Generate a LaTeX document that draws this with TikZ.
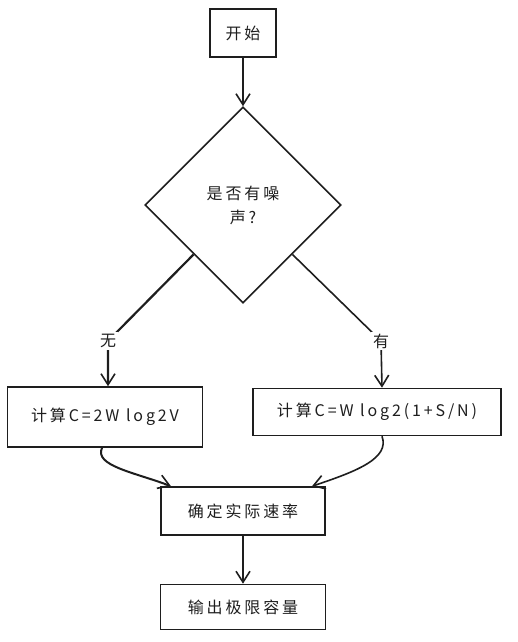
\documentclass[tikz,border=0pt]{standalone}
\usepackage{fontspec}
\setmainfont{Noto Sans CJK SC}[LetterSpace=18]
\usepackage{tikz}
\usetikzlibrary{calc}
\usetikzlibrary{shapes,arrows.meta}
\definecolor{lineColor}{HTML}{1E1E1E}
\tikzstyle{box}=[rectangle, draw=lineColor, line width=1.6pt, text=lineColor, text centered, font=\fontsize{16}{24}\selectfont]
\tikzset{
	desicion/.style={
		diamond,
		draw=lineColor,
		line width=1.6pt,
		aspect=1,
		minimum width=196pt,
		minimum height=196pt,
		inner sep=0pt,
		align=center,
		text=lineColor,
		font=\fontsize{16}{24}\selectfont
	},
	descr/.style={
		fill=white,
		inner sep=2pt,
		text=lineColor,
		font=\fontsize{16}{20}\selectfont
	},
	connector/.style={
		draw=lineColor,
		line width=1.6pt,
		-{Straight Barb[length=11pt,width=14pt,line width=1.6pt]}
	}
}

\begin{document}
\begin{tikzpicture}[x=1pt, y=-1pt, node distance=96pt]
	\useasboundingbox (0,0) rectangle (518,642);
	\node(Start)[box, minimum width=66pt, minimum height=48pt] at (243,33) {开始};
	
	\node(Noise)[desicion, below of=Start, yshift=-76pt]{是否有噪\\声?};
	
	\node(CalcNoNoise)[box, minimum width=195pt, minimum height=60pt, below of=Noise, xshift=-138pt, yshift=-116pt]{计算C=2W log2V};
	
	\node(CalcNoise)[box, minimum width=248pt, minimum height=47pt, below of=Noise, xshift=134pt, yshift=-111pt]{计算C=W log2(1+S/N)};
	
	\node(Rate)[box, minimum width=164pt, minimum height=48pt, below of=Noise, yshift=-210pt]{确定实际速率};
	
	\node(Output)[box, minimum width=165pt, minimum height=45pt, below of=Rate]{输出极限容量};
	
	% bends where the branch labels sit
	\coordinate (NoBend) at (108,341);
	\coordinate (YesBend) at (381,341);
	
	\draw [connector] (Start) -- (Noise);
	\draw [connector, line width=2.2pt] ($(Noise.west)!0.5!(Noise.south)$) -- (NoBend) node[descr]{无} -- (CalcNoNoise.north -| NoBend);
	\draw [connector] ($(Noise.east)!0.5!(Noise.south)$) -- (YesBend) node[descr]{有} -- ([xshift=5pt]CalcNoise.north);
	
	\draw [connector, line width=2pt] ([xshift=-3pt]CalcNoNoise.south) .. controls +(-8,18) and +(-37,-14) .. ([xshift=-72pt]Rate.north);
	\draw [connector] ([xshift=5pt]CalcNoise.south) .. controls +(8,22) and +(45,-15) .. ([xshift=69pt]Rate.north);
	\draw [connector] (Rate) -- (Output);
\end{tikzpicture}
\end{document}
